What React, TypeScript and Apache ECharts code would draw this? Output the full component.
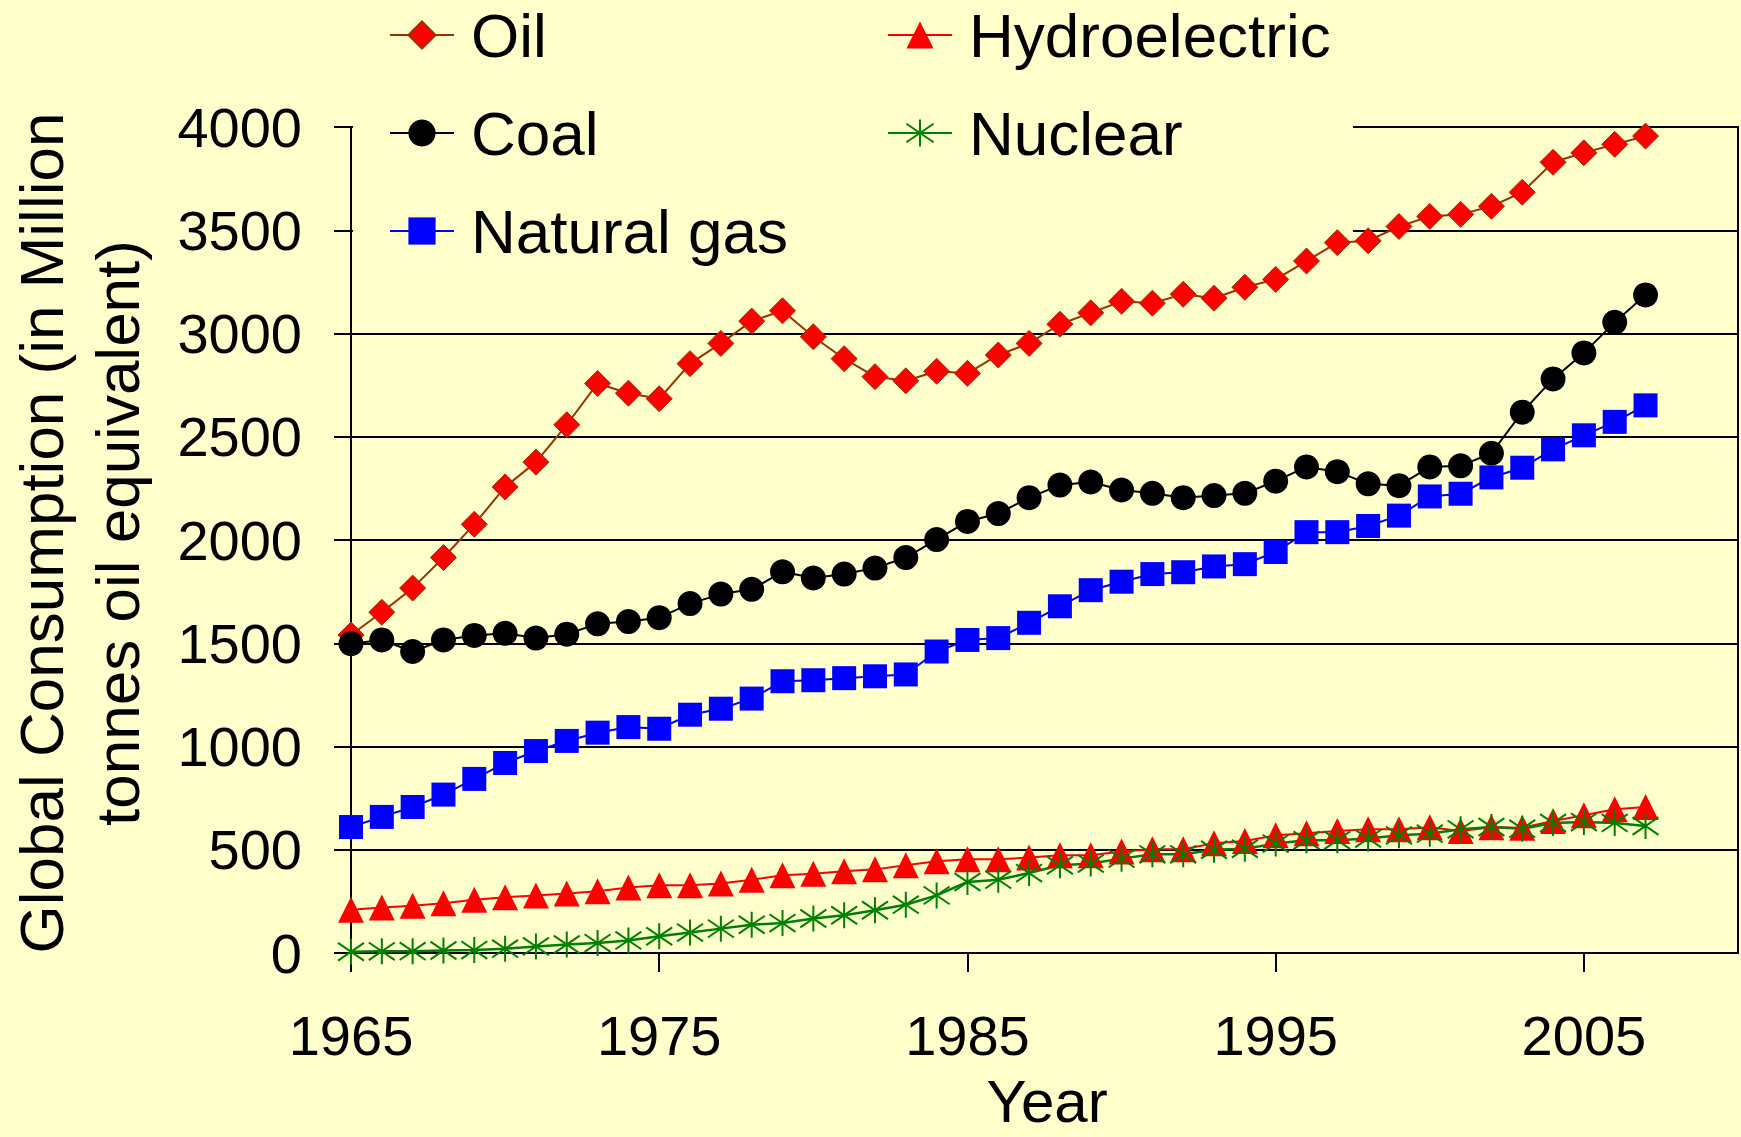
import React, { useEffect, useRef } from "react";
import * as echarts from "echarts";

const years = [
  1965, 1966, 1967, 1968, 1969, 1970, 1971, 1972, 1973, 1974,
  1975, 1976, 1977, 1978, 1979, 1980, 1981, 1982, 1983, 1984,
  1985, 1986, 1987, 1988, 1989, 1990, 1991, 1992, 1993, 1994,
  1995, 1996, 1997, 1998, 1999, 2000, 2001, 2002, 2003, 2004,
  2005, 2006, 2007,
];

const oil = [
  1540, 1650, 1767, 1915, 2076, 2257, 2377, 2558, 2758, 2711,
  2684, 2854, 2952, 3060, 3110, 2984, 2878, 2791, 2771, 2817,
  2807, 2896, 2952, 3045, 3100, 3156, 3147, 3190, 3171, 3224,
  3262, 3351, 3440, 3449, 3518, 3567, 3577, 3616, 3684, 3829,
  3875, 3916, 3956,
];

const coal = [
  1498, 1516, 1460, 1516, 1538, 1548, 1525, 1544, 1594, 1605,
  1624, 1692, 1738, 1761, 1846, 1816, 1835, 1864, 1915, 2002,
  2090, 2128, 2205, 2266, 2281, 2242, 2226, 2205, 2215, 2226,
  2285, 2354, 2331, 2272, 2263, 2354, 2359, 2420, 2619, 2780,
  2906, 3054, 3187,
];

const naturalGas = [
  610, 659, 707, 767, 843, 920, 978, 1027, 1067, 1094,
  1086, 1154, 1183, 1232, 1316, 1321, 1331, 1340, 1349, 1460,
  1516, 1525, 1599, 1679, 1757, 1798, 1835, 1844, 1872, 1883,
  1942, 2038, 2038, 2068, 2118, 2211, 2224, 2303, 2350, 2439,
  2507, 2572, 2652,
];

const hydroelectric = [
  210, 220, 229, 241, 258, 270, 279, 288, 299, 317,
  328, 328, 336, 355, 376, 384, 396, 405, 425, 444,
  454, 454, 462, 473, 473, 492, 502, 502, 531, 542,
  570, 580, 591, 599, 599, 609, 591, 609, 607, 639,
  667, 696, 707,
];

const nuclear = [
  6, 8, 9, 12, 14, 21, 32, 41, 48, 61,
  81, 99, 118, 137, 145, 167, 183, 207, 234, 279,
  344, 355, 387, 425, 433, 457, 478, 478, 500, 505,
  530, 546, 546, 554, 570, 578, 599, 610, 602, 630,
  634, 630, 615,
];

const xTickYears = [1965, 1975, 1985, 1995, 2005];
const yTicks = [0, 500, 1000, 1500, 2000, 2500, 3000, 3500, 4000];

const FONT = "'Liberation Sans', Arial, sans-serif";
const BG = "#FFFFCC";
const STAR = "path://M5,0L5,10M0.6,1.6L9.4,8.4M0.6,8.4L9.4,1.6";

export default function App() {
  const ref = useRef<HTMLDivElement>(null);

  useEffect(() => {
    const chart = echarts.init(ref.current!, null, { renderer: "svg" });
    const pair = (arr: number[]) => years.map((y, i) => [y, arr[i]]);

    const legendCommon = {
      orient: "vertical",
      top: 4,
      padding: 0,
      itemGap: 36,
      itemWidth: 64,
      itemHeight: 34,
      selectedMode: false,
      textStyle: {
        fontSize: 62,
        fontFamily: FONT,
        color: "#000",
        padding: [0, 0, 0, 12],
      },
    };

    chart.setOption({
      animation: false,
      backgroundColor: BG,
      textStyle: { fontFamily: FONT },
      grid: {
        left: 351,
        right: 3,
        top: 127,
        bottom: 184,
        show: true,
        borderColor: "#000",
        borderWidth: 2,
        backgroundColor: "transparent",
      },
      legend: [
        { ...legendCommon, left: 389, data: ["Oil", "Coal", "Natural gas"] },
        { ...legendCommon, left: 887, data: ["Hydroelectric", "Nuclear"] },
      ],
      xAxis: {
        type: "value",
        min: 1965,
        max: 2010,
        interval: 10,
        axisLine: { show: true, lineStyle: { color: "#000", width: 2 } },
        axisTick: {
          show: true,
          length: 19,
          inside: false,
          customValues: xTickYears,
          lineStyle: { color: "#000", width: 2 },
        },
        axisLabel: {
          customValues: xTickYears,
          fontSize: 56,
          fontFamily: FONT,
          color: "#000",
          margin: 54,
          formatter: (v: number) => String(v),
        },
        splitLine: { show: false },
      },
      yAxis: {
        type: "value",
        min: yTicks[0],
        max: yTicks[yTicks.length - 1],
        interval: 500,
        axisLine: { show: true, lineStyle: { color: "#000", width: 2 } },
        axisTick: {
          show: true,
          length: 17,
          inside: false,
          lineStyle: { color: "#000", width: 2 },
        },
        axisLabel: {
          fontSize: 56,
          fontFamily: FONT,
          color: "#000",
          margin: 49,
          formatter: (v: number) => String(v),
        },
        splitLine: { show: true, lineStyle: { color: "#000", width: 2 } },
      },
      graphic: [
        {
          type: "rect",
          z: 3,
          silent: true,
          shape: { x: 353, y: 0, width: 1000, height: 262 },
          style: { fill: BG },
        },
        {
          type: "text",
          z: 5,
          x: 79,
          y: 533,
          rotation: Math.PI / 2,
          style: {
            text: "Global Consumption (in Million\ntonnes oil equivalent)",
            font: `62px ${FONT}`,
            fill: "#000",
            align: "center",
            verticalAlign: "middle",
            lineHeight: 76,
          },
        },
        {
          type: "text",
          z: 5,
          x: 1047,
          y: 1101,
          style: {
            text: "Year",
            font: `60px ${FONT}`,
            fill: "#000",
            align: "center",
            verticalAlign: "middle",
            lineHeight: 60,
          },
        },
      ],
      series: [
        {
          name: "Oil",
          type: "line",
          data: pair(oil),
          symbol: "diamond",
          symbolSize: 26,
          lineStyle: { color: "#993300", width: 2 },
          itemStyle: { color: "#FF0000", borderColor: "#993300", borderWidth: 1 },
          emphasis: { disabled: true },
        },
        {
          name: "Coal",
          type: "line",
          data: pair(coal),
          symbol: "circle",
          symbolSize: 25,
          lineStyle: { color: "#000000", width: 2 },
          itemStyle: { color: "#000000" },
          emphasis: { disabled: true },
        },
        {
          name: "Natural gas",
          type: "line",
          data: pair(naturalGas),
          symbol: "rect",
          symbolSize: 24,
          lineStyle: { color: "#0000FF", width: 2 },
          itemStyle: { color: "#0000FF" },
          emphasis: { disabled: true },
        },
        {
          name: "Hydroelectric",
          type: "line",
          data: pair(hydroelectric),
          symbol: "triangle",
          symbolSize: 26,
          lineStyle: { color: "#FF0000", width: 2 },
          itemStyle: { color: "#FF0000" },
          emphasis: { disabled: true },
        },
        {
          name: "Nuclear",
          type: "line",
          data: pair(nuclear),
          symbol: STAR,
          symbolSize: 26,
          lineStyle: { color: "#008000", width: 2.5 },
          itemStyle: { color: "transparent", borderColor: "#008000", borderWidth: 2 },
          emphasis: { disabled: true },
        },
      ],
    });

    return () => chart.dispose();
  }, []);

  return (
    <div
      ref={ref}
      style={{ position: "fixed", left: 0, top: 0, width: 1741, height: 1137, background: BG }}
    />
  );
}
